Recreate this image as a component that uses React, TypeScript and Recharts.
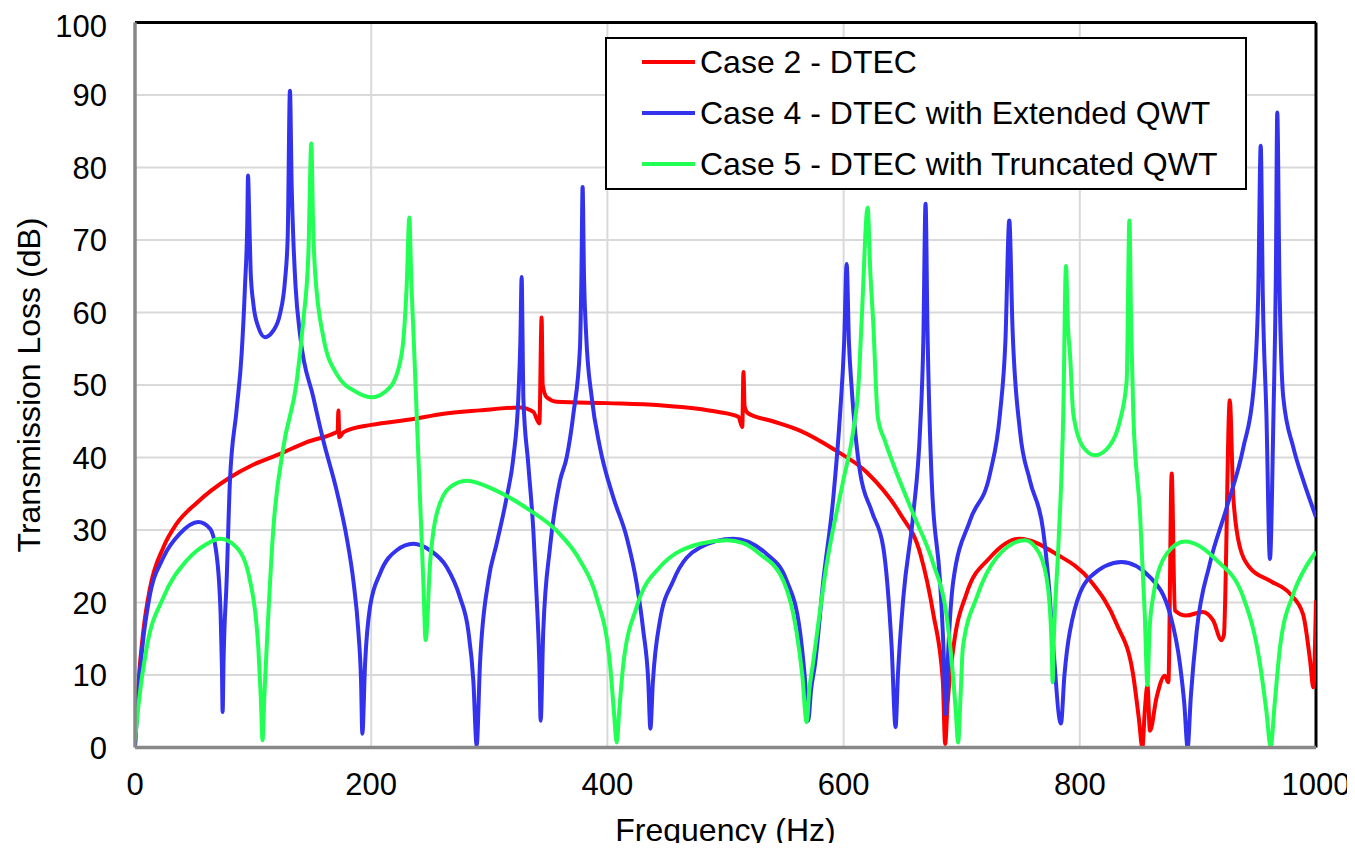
import {
  LineChart,
  Line,
  XAxis,
  YAxis,
  CartesianGrid,
  ReferenceLine,
  Legend,
} from 'recharts';

const FONT = '"Liberation Sans", Arial, Helvetica, sans-serif';

const freqTicks = [0, 200, 400, 600, 800, 1000];
const tlTicks = [0, 10, 20, 30, 40, 50, 60, 70, 80, 90, 100];

// [frequency Hz, transmission loss dB]
const case2: [number, number][] = [
  [0, 0.5], [3, 9], [7, 16], [12.7, 22], [24, 27.6], [35, 30.8], [52, 33.7],
  [80, 37.2], [100, 39], [122.8, 40.5], [145, 42.1], [167.9, 43.3], [171.6, 43.6],
  [172.2, 46.5], [173, 42.8], [176, 43.4], [179.2, 43.7], [200, 44.5],
  [235.7, 45.3], [260, 46], [292, 46.5], [326, 46.9], [337.3, 46.3],
  [342.4, 44.7], [344.3, 59.3], [345.2, 50], [348.6, 48.3], [357, 47.7],
  [400, 47.5], [444.5, 47.2], [493, 46.3], [511, 45.6], [514.2, 44.2],
  [515.2, 51.8], [516.2, 47], [519, 46.1], [540, 45], [563, 43.7], [591, 41.2],
  [620, 37.9], [648, 32.2], [665, 26.7], [676, 18.4], [684, 9.2], [686, 0.5],
  [688, 6], [693, 13.8], [704, 21.2], [724, 26.2], [749, 28.8], [780, 26.7],
  [809, 23], [831, 17.1], [845, 10.2], [850, 4], [853, 0], [855, 5],
  [857.3, 8.6], [859.4, 2.3], [865, 6.9], [872, 9.9], [875, 9], [877.8, 37.8],
  [880.5, 18.9], [890, 18.2], [904, 18.7], [913, 17.5], [920, 14.8],
  [922, 15.5], [927, 47.9], [930, 34.5], [935.6, 27.6], [944, 24.8], [961, 23],
  [978, 21.2], [989, 18.4], [995, 12], [997.7, 8.3], [1000, 20.3],
];

const case4: [number, number][] = [
  [0, 0], [3, 8], [7, 15], [12, 20.5], [24, 26.2], [38, 29.5], [53.6, 31.1],
  [63.5, 30.2], [69, 26.7], [72.5, 18.4], [73.6, 11], [74.2, 4.9], [75, 12],
  [77.6, 23], [80.4, 36.8], [86, 46.5], [90.3, 54.3], [93.1, 63.5],
  [95.1, 72.7], [95.7, 78.9], [96.8, 72.7], [97.9, 65.8], [100.2, 61.2],
  [104.4, 58], [110, 56.6], [117.1, 57.5], [122.8, 59.8], [127, 64.4],
  [129.3, 70.4], [131.2, 90.6], [132.7, 77.3], [134, 70.4], [136, 63.5],
  [139.7, 57], [151, 48.3], [159.5, 42.3], [170.8, 35.4], [179.2, 29],
  [184.9, 23], [189.1, 16.1], [191.4, 9.2], [192.5, 1.9], [194.8, 11.5],
  [199, 19.4], [207.5, 24], [221.6, 27.2], [235.7, 28.1], [249.8, 27.2],
  [263.9, 24.9], [275.2, 20.7], [282.2, 16.1], [286.5, 9.2], [289.3, 0.3],
  [292.1, 11.5], [299.2, 23], [306.2, 28.1], [314.7, 34.5], [320.4, 40],
  [324.6, 48.3], [326.3, 56], [327.4, 64.9], [328.2, 56], [328.8, 48.3],
  [333, 39.1], [337.3, 29.9], [340.1, 20.7], [342.4, 11.5], [343.5, 3.7],
  [345.7, 16.1], [351.4, 27.6], [359.9, 36.8], [365.5, 40], [371.2, 46],
  [376.8, 55.2], [378, 65], [379, 77.3], [380.2, 65], [382, 57],
  [386.7, 48.3], [393.7, 41.4], [405, 34.5], [416.3, 29], [424.8, 22.6],
  [430.4, 16.1], [434.6, 9.2], [436.4, 2.6], [438.5, 9], [444.5, 17.5],
  [455.8, 23], [478.4, 27.6], [506.6, 28.8], [534.8, 26.7], [551.8, 23],
  [563, 16.1], [567, 10], [570, 3.7], [572.5, 8], [575.8, 11.5], [582.8, 23],
  [591.3, 34.5], [597, 46], [600.5, 56], [602.6, 66.7], [604.5, 56],
  [606.8, 49.7], [613.9, 38], [624, 32.5], [633.6, 27.6], [640.7, 13.8],
  [644, 2.8], [646, 10], [650.6, 20.7], [659, 32.2], [664.7, 43.7],
  [667.5, 56], [669.4, 75], [671, 58], [674.6, 36.8], [681.6, 23],
  [684.5, 14], [686.4, 4.6], [688.5, 13], [692.9, 23], [707, 31.3],
  [724, 37.8], [732.4, 46], [737, 56], [740.3, 72.7], [743, 58], [749.3, 43.7],
  [757.8, 36.8], [769, 29.9], [774, 22], [777.6, 13.8], [784, 3.3], [787, 10],
  [791.7, 16.1], [808.6, 23.5], [835.4, 25.6], [859.4, 23.5], [876.4, 18.4],
  [884.8, 11.5], [888.5, 6], [891.3, 0], [894, 7], [899, 16.1], [910, 25.3],
  [924.4, 33.1], [938.5, 41.4], [947, 49.2], [951, 62], [953.2, 83], [955, 62],
  [958, 46], [961, 26], [964, 46], [966, 65], [967.2, 87.6], [969, 65],
  [972.3, 48.3], [980.8, 41.4], [989.3, 36.8], [1000, 31.8],
];

const case5: [number, number][] = [
  [0, 1], [3, 6], [9.9, 13.8], [24, 20.7], [43.8, 25.8], [60, 28], [72, 28.8],
  [86, 27.6], [97.4, 23], [104.4, 13.8], [106.5, 7], [108, 1], [109.5, 7],
  [111.5, 13.8], [117, 29.9], [125.6, 41.4], [137, 50.6], [142.5, 58.9],
  [146.8, 68.1], [149.3, 83.3], [150.8, 72], [152.4, 65.8], [159.5, 56.6],
  [170.8, 51.5], [187.7, 49], [200.4, 48.3], [216, 49.7], [225.8, 54.3],
  [230, 63.5], [232.3, 73.1], [234, 64], [235.7, 57.5], [238.5, 46],
  [241.3, 34.5], [244.1, 23], [246.1, 14.8], [249.8, 25.3], [255.4, 32.2],
  [266.7, 35.9], [280.8, 36.8], [306.2, 35.4], [334.5, 32.7], [357, 29.9],
  [376.8, 25.8], [390.9, 20.7], [402.2, 11.5], [405.5, 5], [407.9, 0.7],
  [410, 5], [413.5, 11.5], [424.8, 19.4], [444.5, 24.9], [478.4, 28.1],
  [500.9, 28.6], [515, 28.2], [529, 26.7], [549, 23], [560, 16.1], [565, 10],
  [568.7, 3.5], [571, 8], [574, 11.5], [585.7, 25.3], [599.7, 36.8],
  [608.2, 43.7], [612.5, 49.7], [615.3, 58.9], [620.4, 74.5], [622.5, 66],
  [625, 58.9], [629, 45.5], [635, 42.3], [642, 39.1], [659, 32.2], [676, 25.3],
  [687, 18.4], [693, 9.2], [695, 5], [697, 0.7], [699, 7], [701, 13.8],
  [712.7, 20.7], [729.6, 26.2], [753.6, 28.6], [766, 26.7], [773, 22.1],
  [776.2, 13.8], [777, 9], [778, 15], [781.8, 27.6], [786, 46], [788.3, 66.4],
  [790, 58], [791.7, 54.3], [794.5, 46], [803, 41.4], [813, 40.3],
  [825.6, 41.7], [834, 45.1], [839.7, 50.6], [842, 72.7], [843.5, 58],
  [845.3, 46], [851, 32.2], [855, 18.4], [857.3, 8.6], [859, 16], [862, 20.7],
  [873.5, 26.7], [889, 28.4], [916, 25.8], [938.5, 20.7], [952.6, 11.5],
  [958, 5], [961.6, 0.1], [965, 6], [969.5, 13.8], [980.8, 21.2], [990, 24.5],
  [1000, 27],
];

const seriesNames = [
  'Case 2 - DTEC',
  'Case 4 - DTEC with Extended QWT',
  'Case 5 - DTEC with Truncated QWT',
];
const seriesColors = ['#ff0000', '#3333ee', '#22ff55'];
const seriesPoints = [case2, case4, case5];

const toRows = (pts: [number, number][]) => pts.map(([f, tl]) => ({ f, tl }));

const LegendBox = ({ payload }: any) => (
  <div
    style={{
      width: 642,
      height: 153,
      border: '2px solid #000',
      boxSizing: 'border-box',
      background: '#fff',
      fontFamily: FONT,
      fontSize: 32,
      color: '#000',
    }}
  >
    <div style={{ marginTop: -3 }}>
      {(payload || []).map((p: any) => (
        <div key={p.value} style={{ display: 'flex', alignItems: 'center', height: 51 }}>
          <svg width={93} height={10}>
            <line x1={35} x2={88} y1={5} y2={5} stroke={p.color} strokeWidth={4} />
          </svg>
          <span style={{ lineHeight: '32px', whiteSpace: 'nowrap' }}>{p.value}</span>
        </div>
      ))}
    </div>
  </div>
);

export default function App() {
  return (
    <div style={{ width: 1339, height: 835 }}>
      {/* axis texts at the edges reach a few px past the svg box */}
      <style>{'.recharts-surface{overflow:visible}'}</style>
      <LineChart
        width={1339}
        height={835}
        margin={{ top: 14.5, right: 31, bottom: 0, left: 0 }}
      >
        <CartesianGrid stroke="#d9d9d9" strokeWidth={2} />
        <XAxis
          type="number"
          dataKey="f"
          domain={[0, 1000]}
          ticks={freqTicks}
          allowDataOverflow
          tickLine={false}
          tickSize={0}
          tickMargin={25}
          height={95.5}
          axisLine={{ stroke: '#888', strokeWidth: 3.5 }}
          tick={{ fill: '#000', fontSize: 31, fontFamily: FONT }}
          label={{
            value: 'Frequency (Hz)',
            position: 'insideBottom',
            offset: 2,
            fill: '#000',
            fontSize: 32,
            fontFamily: FONT,
          }}
        />
        <YAxis
          type="number"
          domain={[0, 100]}
          ticks={tlTicks}
          allowDataOverflow
          tickLine={false}
          tickSize={0}
          tickMargin={28}
          width={127}
          axisLine={{ stroke: '#888', strokeWidth: 3.5 }}
          tick={{ fill: '#000', fontSize: 31, fontFamily: FONT }}
          label={{
            value: 'Transmission Loss (dB)',
            angle: -90,
            position: 'insideLeft',
            offset: 21,
            fill: '#000',
            fontSize: 32,
            fontFamily: FONT,
            style: { textAnchor: 'middle' },
          }}
        />
        <ReferenceLine y={100} stroke="#000" strokeWidth={3} />
        <ReferenceLine x={1000} stroke="#000" strokeWidth={3} />
        {seriesPoints.map((pts, i) => (
          <Line
            key={seriesNames[i]}
            data={toRows(pts)}
            dataKey="tl"
            name={seriesNames[i]}
            type="monotone"
            stroke={seriesColors[i]}
            strokeWidth={4}
            dot={false}
            activeDot={false}
            isAnimationActive={false}
          />
        ))}
        <Legend
          layout="vertical"
          align="center"
          verticalAlign="middle"
          content={LegendBox}
          wrapperStyle={{ left: 597, top: 29, width: 642, height: 153 }}
        />
      </LineChart>
    </div>
  );
}
